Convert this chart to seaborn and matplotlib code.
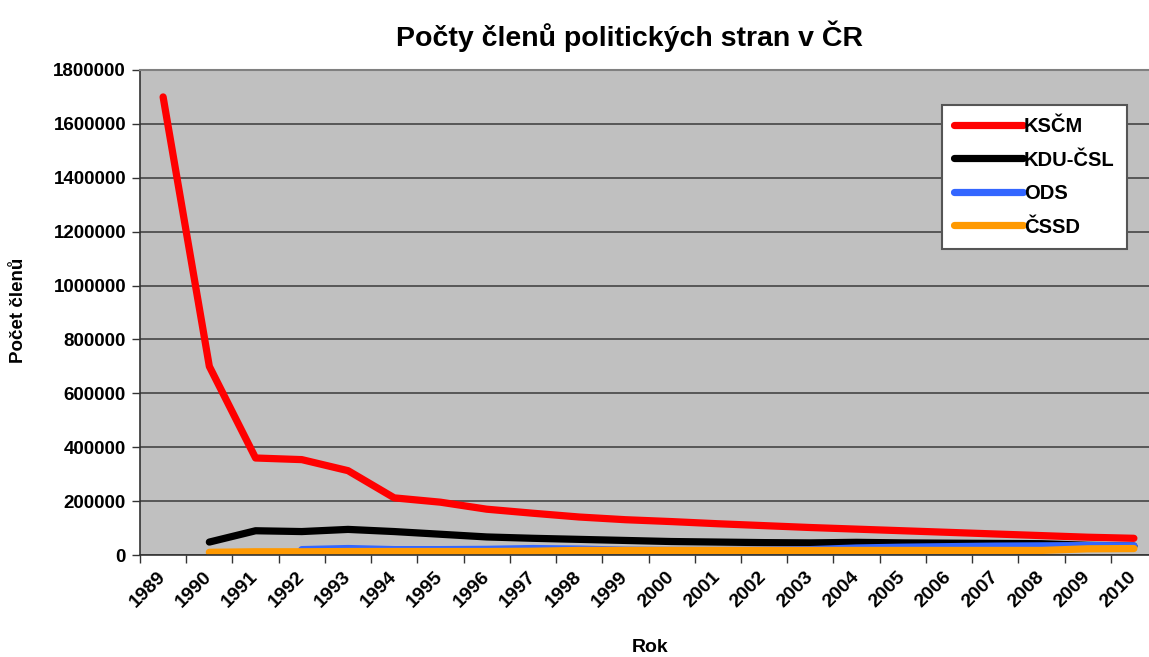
import numpy as np
import pandas as pd
import matplotlib
matplotlib.use("Agg")
import matplotlib.pyplot as plt
import matplotlib.transforms as mtransforms
import seaborn as sns
from matplotlib.ticker import FuncFormatter, MultipleLocator, FixedLocator

# ── Data ─────────────────────────────────────────────────────────────
nan = np.nan
years = list(range(1989, 2011))
kscm = [1700000, 700000, 360000, 354000, 313000, 212000, 196000, 170000,
        155000, 141000, 131000, 124000, 116000, 109000, 102000, 96000,
        90000, 84000, 78000, 72000, 66000, 62000]
kdu_csl = [nan, 48000, 90000, 87000, 95000, 87000, 77000, 67000,
           62000, 58000, 54000, 50000, 48000, 46000, 45000, 47000,
           45000, 44000, 43000, 42000, 36000, 33000]
ods = [nan, nan, nan, 20000, 24000, 20000, 20000, 21000,
       24000, 22000, 18000, 17000, 17000, 18000, 20000, 26000,
       29000, 31000, 33000, 34000, 35000, 34000]
cssd = [nan, 10000, 12000, 12000, 13000, 13000, 13000, 13000,
        14000, 17000, 17000, 17000, 17000, 17000, 17000, 17000,
        17000, 17000, 17000, 17000, 23000, 24000]

parties = ["KSČM", "KDU-ČSL", "ODS", "ČSSD"]
colors = {"KSČM": "#FF0000", "KDU-ČSL": "#000000", "ODS": "#3366FF", "ČSSD": "#FF9900"}

df = pd.DataFrame({"Rok": years, "KSČM": kscm, "KDU-ČSL": kdu_csl, "ODS": ods, "ČSSD": cssd})
long = df.melt(id_vars="Rok", var_name="Strana", value_name="Členové")

# ── Theme ────────────────────────────────────────────────────────────
sns.set_theme(style="white")
plt.rcParams["font.family"] = ["Liberation Sans", "DejaVu Sans"]
plt.rcParams.update({
    "font.weight": "bold",
    "text.color": "black",
    "axes.labelcolor": "black",
    "xtick.color": "black",
    "ytick.color": "black",
})

fig = plt.figure(figsize=(11.49, 6.57), dpi=100)
ax = fig.add_axes([140 / 1149, 102 / 657, 1017 / 1149, 485 / 657])
ax.set_facecolor("#C0C0C0")

sns.lineplot(
    data=long, x="Rok", y="Členové", hue="Strana", hue_order=parties,
    palette=colors, linewidth=5.2, ax=ax, legend=True,
)
for line in ax.get_lines():
    line.set_solid_capstyle("round")
    line.set_solid_joinstyle("round")

ax.set_xlim(1988.5, 2010.5)
ax.set_ylim(0, 1800000)
ax.yaxis.set_major_locator(MultipleLocator(200000))
ax.yaxis.set_major_formatter(FuncFormatter(lambda v, _: f"{int(v)}"))
ax.grid(axis="y", color="#3a3a3a", linewidth=1.1)
ax.set_axisbelow(True)

# category labels sit at the centre, tick marks between categories
ax.set_xticks(years)
ax.set_xticklabels([str(y) for y in years], rotation=45, ha="right",
                   va="center", rotation_mode="anchor", fontsize=14, fontweight="bold")
shift = mtransforms.ScaledTranslation(-10 / 100, -2 / 100, fig.dpi_scale_trans)
for lab in ax.get_xticklabels():
    lab.set_transform(lab.get_transform() + shift)
ax.xaxis.set_minor_locator(FixedLocator([y - 0.5 for y in years] + [2010.5]))
ax.tick_params(axis="x", which="major", length=0, pad=14)
ax.tick_params(axis="x", which="minor", length=6, width=1, color="#333333", bottom=True)
ax.tick_params(axis="y", length=6, width=1, color="#333333", left=True, labelsize=13.5, pad=4)
for lab in ax.get_yticklabels():
    lab.set_fontweight("bold")

for side in ["left", "bottom"]:
    ax.spines[side].set_color("#333333")
    ax.spines[side].set_linewidth(1.2)
ax.spines["top"].set_color("#808080")
ax.spines["top"].set_linewidth(1.5)
ax.spines["right"].set_visible(False)

ax.set_xlabel("")
ax.set_ylabel("")
fig.text(0.548, 0.945, "Počty členů politických stran v ČR", ha="center", va="center",
         fontsize=20.5, fontweight="bold")
fig.text(0.016, 0.528, "Počet členů", rotation=90, ha="center", va="center",
         fontsize=13.5, fontweight="bold")
fig.text(0.566, 0.015, "Rok", ha="center", va="center", fontsize=14, fontweight="bold")

leg = ax.legend(
    loc="upper left", bbox_to_anchor=(0.789, 0.928), frameon=True, fancybox=False,
    handlelength=3.4, handletextpad=0.05, borderpad=0.6, labelspacing=0.72,
    prop={"weight": "bold", "size": 14.5}, borderaxespad=0,
)
leg.get_frame().set_edgecolor("#555555")
leg.get_frame().set_linewidth(1.5)
leg.get_frame().set_facecolor("white")
leg.get_frame().set_alpha(1)
for h in leg.legend_handles:
    h.set_linewidth(5.2)
    h.set_solid_capstyle("round")

fig.savefig("out.png", dpi=100)
